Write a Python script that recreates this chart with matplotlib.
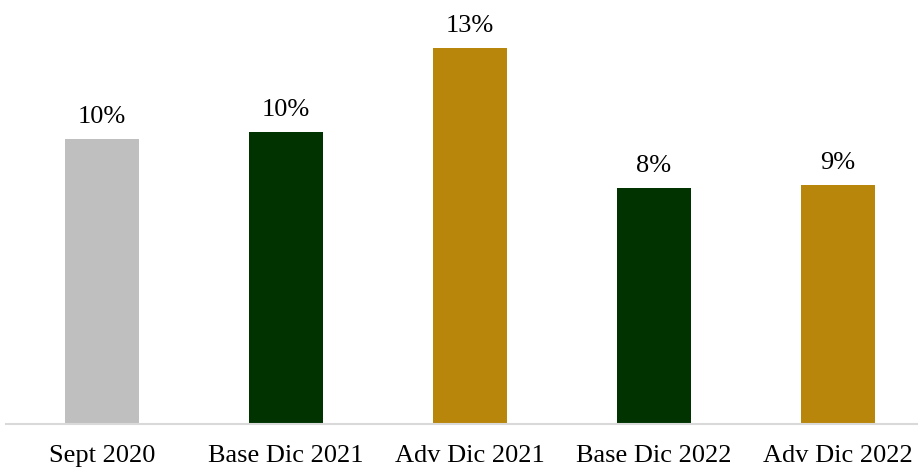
import matplotlib.pyplot as plt

categories = ["Sept 2020", "Base Dic 2021", "Adv Dic 2021", "Base Dic 2022", "Adv Dic 2022"]
values = [10.2, 10.45, 13.45, 8.44, 8.55]
labels = ["10%", "10%", "13%", "8%", "9%"]
colors = ["#bfbfbf", "#003300", "#b8860b", "#003300", "#b8860b"]

plt.rcParams["font.family"] = ["Liberation Serif", "DejaVu Serif"]

fig = plt.figure(figsize=(9.18, 4.69), dpi=100)
ax = fig.add_axes([6 / 918, 45 / 469, 912 / 918, 424 / 469])

x = range(len(categories))
bars = ax.bar(x, values, width=0.4, color=colors)
for b, lab in zip(bars, labels):
    ax.annotate(lab, (b.get_x() + b.get_width() / 2, b.get_height()),
                xytext=(0, 8), textcoords="offset points",
                ha="center", va="bottom", fontsize=19)

ax.set_xlim(-0.522, 4.435)
ax.set_ylim(0, 424 / (376 / 13.45))
ax.set_xticks(list(x))
ax.set_xticklabels(categories, fontsize=19)
ax.tick_params(axis="x", length=0, pad=15)
ax.set_yticks([])
for s in ["top", "right", "left"]:
    ax.spines[s].set_visible(False)
ax.spines["bottom"].set_color("#d9d9d9")
ax.spines["bottom"].set_linewidth(1.5)

fig.savefig("out.png", dpi=100)
